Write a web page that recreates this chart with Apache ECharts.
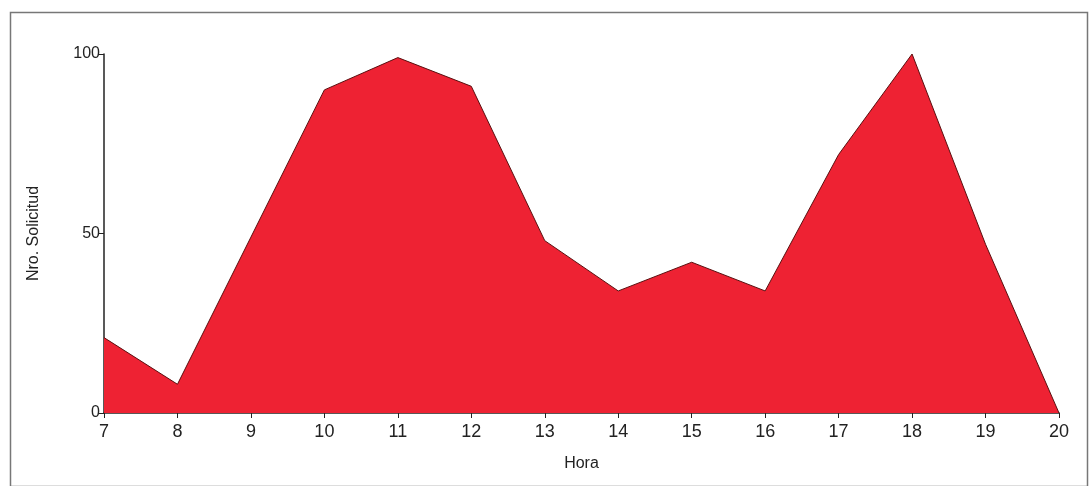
<!DOCTYPE html>
<html><head><meta charset="utf-8">
<script src="https://cdn.jsdelivr.net/npm/echarts@6/dist/echarts.min.js"></script>
<style>html,body{margin:0;padding:0;background:#fff}#c{width:1091px;height:486px}</style>
</head><body><div id="c"></div>
<script>
const horas = ['7','8','9','10','11','12','13','14','15','16','17','18','19','20'];
const solicitudes = [21, 8, 49, 90, 99, 91, 48, 34, 42, 34, 72, 100, 47, 0];
const yTicks = [0, 50, 100];

const chart = echarts.init(document.getElementById('c'));
chart.setOption({
  animation: false,
  backgroundColor: '#ffffff',
  graphic: [{
    type: 'rect', left: 8, top: 10, shape: {width: 1077, height: 474},
    style: {fill: 'none', stroke: '#777', lineWidth: 1.5}
  }],
  grid: {left: 104, right: 32, top: 54, bottom: 73},
  xAxis: {
    type: 'category', data: horas, boundaryGap: false,
    name: 'Hora', nameLocation: 'middle', nameGap: 43,
    nameTextStyle: {fontFamily: 'Liberation Sans', fontSize: 16, color: '#222'},
    axisLine: {lineStyle: {color: '#222', width: 1.5}},
    axisTick: {show: true, length: 5, lineStyle: {color: '#222'}},
    axisLabel: {fontFamily: 'Liberation Sans', fontSize: 18, color: '#222', margin: 10},
    splitLine: {show: false}
  },
  yAxis: {
    type: 'value', min: 0, max: 100, interval: 50,
    name: 'Nro. Solicitud', nameLocation: 'middle', nameGap: 62, nameRotate: 90,
    nameTextStyle: {fontFamily: 'Liberation Sans', fontSize: 16, color: '#222'},
    axisLine: {show: true, lineStyle: {color: '#222', width: 1.5}},
    axisTick: {show: true, length: 5, lineStyle: {color: '#222'}},
    axisLabel: {fontFamily: 'Liberation Sans', fontSize: 16, color: '#222', margin: 4,
      formatter: v => yTicks.includes(v) ? String(v) : ''},
    splitLine: {show: false}
  },
  series: [{
    type: 'line', data: solicitudes, symbol: 'none',
    lineStyle: {color: '#5a1010', width: 1},
    areaStyle: {color: '#ee2233', opacity: 1}
  }]
});
</script></body></html>
